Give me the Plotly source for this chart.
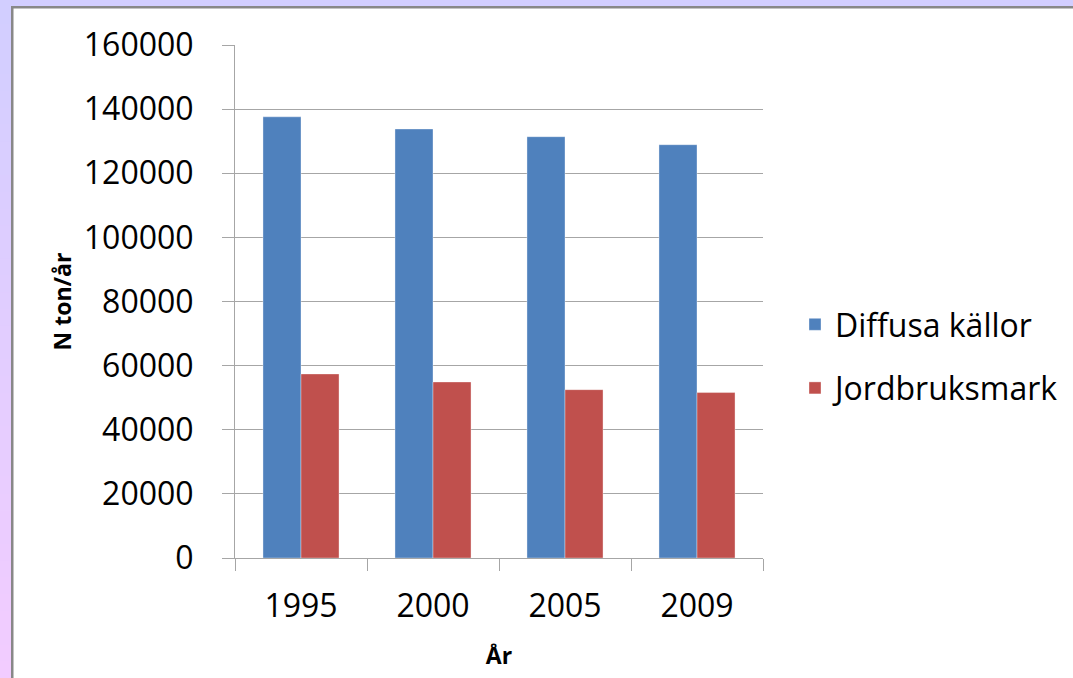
import plotly.graph_objects as go

years = ["1995", "2000", "2005", "2009"]
diffusa = [137600, 133800, 131400, 128900]
jordbruk = [57400, 54900, 52500, 51600]
series_names = ["Diffusa källor", "Jordbruksmark"]
y_ticks = [0, 20000, 40000, 60000, 80000, 100000, 120000, 140000, 160000]

W, H = 1073, 678
L, R, T, B = 235, 310, 45, 120
PW, PH = W - L - R, H - T - B

def px(x):
    return (x - L) / PW

def py(y):
    return (H - B - y) / PH

FONT = "Open Sans"
GRID = "#A6A6A6"

fig = go.Figure()
fig.add_bar(x=years, y=diffusa, name=series_names[0], legendgroup="a",
            marker=dict(color="#4F81BD", line=dict(color="rgba(255,255,255,0.35)", width=1)))
fig.add_bar(x=years, y=jordbruk, name=series_names[1], legendgroup="b",
            marker=dict(color="#C0504D", line=dict(color="rgba(255,255,255,0.35)", width=1)))

shapes = []
# top lavender strip
shapes.append(dict(type="rect", xref="paper", yref="paper", x0=px(0), x1=px(W), y0=py(0), y1=py(7),
                   fillcolor="#D2CEFF", line=dict(width=0), layer="below"))
# left gradient strip
n = 40
c0 = (0xD2, 0xCE, 0xFF)
c1 = (0xF2, 0xCC, 0xFF)
for i in range(n):
    t = i / (n - 1)
    c = tuple(int(round(c0[k] + (c1[k] - c0[k]) * t)) for k in range(3))
    ya = 7 + (H - 7) * i / n
    yb = 7 + (H - 7) * (i + 1) / n + 1
    shapes.append(dict(type="rect", xref="paper", yref="paper", x0=px(0), x1=px(11.5),
                       y0=py(ya), y1=py(min(yb, H)), fillcolor="rgb(%d,%d,%d)" % c,
                       line=dict(width=0), layer="below"))
# gray frame lines
shapes.append(dict(type="rect", xref="paper", yref="paper", x0=px(11), x1=px(W), y0=py(6), y1=py(8.5),
                   fillcolor="#888888", line=dict(width=0), layer="below"))
shapes.append(dict(type="rect", xref="paper", yref="paper", x0=px(11), x1=px(13.5), y0=py(6), y1=py(H),
                   fillcolor="#888888", line=dict(width=0), layer="below"))

fig.update_layout(
    width=W, height=H,
    margin=dict(l=L, r=R, t=T, b=B, autoexpand=False),
    paper_bgcolor="white", plot_bgcolor="white",
    font=dict(family=FONT, size=32, color="#000000"),
    barmode="group", bargap=0.424, bargroupgap=0,
    shapes=shapes,
    showlegend=True,
    legend=dict(x=px(795), xanchor="left", y=py(297), yanchor="top",
                traceorder="grouped", tracegroupgap=19,
                font=dict(family=FONT, size=32, color="#000000"),
                bgcolor="rgba(0,0,0,0)", itemwidth=30),
    xaxis=dict(
        type="category", range=[-0.5, 3.5],
        showline=True, linecolor=GRID, linewidth=1,
        ticks="outside", ticklen=12, tickcolor=GRID, tickwidth=1,
        tickson="boundaries", ticklabelstandoff=20,
        showgrid=False,
        tickfont=dict(family=FONT, size=32, color="#000000"),
        title=dict(text="År", font=dict(family=FONT, size=23, color="#000000", weight="bold"), standoff=22),
    ),
    yaxis=dict(
        range=[0, 160000], tickvals=y_ticks, ticktext=[str(v) for v in y_ticks],
        showline=True, linecolor=GRID, linewidth=1,
        ticks="outside", ticklen=12, tickcolor=GRID, tickwidth=1,
        ticklabelstandoff=22,
        showgrid=True, gridcolor=GRID, gridwidth=1, zeroline=False,
        tickfont=dict(family=FONT, size=32, color="#000000"),
        title=dict(text="N ton/år", font=dict(family=FONT, size=23, color="#000000", weight="bold"), standoff=5),
    ),
)

fig.write_html("out.html")
